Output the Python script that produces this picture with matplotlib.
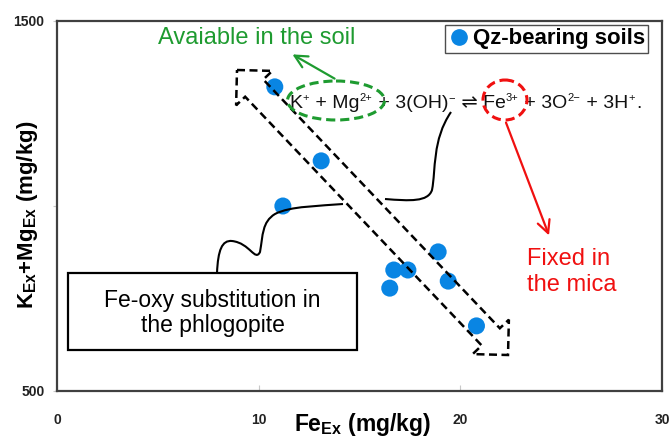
import numpy as np
import matplotlib
matplotlib.use('Agg')
import matplotlib.pyplot as plt
from matplotlib.patches import Polygon, Ellipse, Rectangle, PathPatch
from matplotlib.path import Path
from matplotlib.transforms import Affine2D
from matplotlib.lines import Line2D

# ---- data ----
fe_ex = [10.8, 13.1, 11.2, 18.9, 16.7, 17.4, 16.5, 19.4, 20.8]
k_mg_ex = [1322, 1122, 1000, 876, 827, 827, 778, 797, 676]
x_ticks = [0, 10, 20, 30]
y_ticks = [500, 1000, 1500]
y_tick_labels = ['500', '', '1500']
series_label = 'Qz-bearing soils'

plt.rcParams['font.family'] = ['Liberation Sans', 'DejaVu Sans']
plt.rcParams['mathtext.fontset'] = 'custom'
plt.rcParams['mathtext.rm'] = 'Liberation Sans'
plt.rcParams['mathtext.it'] = 'Liberation Sans:italic'
plt.rcParams['mathtext.bf'] = 'Liberation Sans:bold'

W, H = 671, 437
fig = plt.figure(figsize=(W / 100, H / 100), dpi=100)
ax = fig.add_axes([57 / W, 1 - 391 / H, (662 - 57) / W, (391 - 21) / H])
ax.set_xlim(0, 30)
ax.set_ylim(500, 1500)

# pixel (image) coordinates transform for decorations, y downward
PT = Affine2D().scale(1 / W, -1 / H).translate(0, 1) + fig.transFigure

BLUE = '#0985E3'
GREEN = '#1E9B30'
RED = '#F01010'

sc = ax.scatter(fe_ex, k_mg_ex, s=150, color=BLUE, zorder=3, label=series_label,
                edgecolors='none')

# axes styling
for sp in ax.spines.values():
    sp.set_color('#404040')
    sp.set_linewidth(1.6)
ax.set_xticks(x_ticks)
ax.set_yticks(y_ticks)
ax.set_yticklabels(y_tick_labels)
ax.tick_params(axis='x', direction='in', length=4, color='#c8c8c8', pad=16,
               labelsize=10, labelcolor='#222222')
ax.tick_params(axis='y', direction='out', length=3, color='#c8c8c8', pad=6,
               labelsize=10, labelcolor='#222222')
for lab in ax.get_xticklabels() + ax.get_yticklabels():
    lab.set_fontweight('bold')

ax.set_xlabel(r'Fe$_{\mathbf{Ex}}$ (mg/kg)', fontsize=16.5, fontweight='bold', va='center')
ax.xaxis.set_label_coords((362 - 57) / 605, (391 - 424) / 370)
ax.set_ylabel(r'K$_{\mathbf{Ex}}$+Mg$_{\mathbf{Ex}}$ (mg/kg)', fontsize=16,
              fontweight='bold', va='center')
ax.yaxis.set_label_coords((28 - 57) / 605, (391 - 215) / 370)

# legend
leg = ax.legend(handles=[Line2D([], [], marker='o', ls='none', color=BLUE, markersize=11)],
                labels=[series_label], loc='upper right',
                bbox_to_anchor=(648 / W, 1 - 25 / H), bbox_transform=fig.transFigure,
                frameon=True, fancybox=False, borderpad=0.15, handletextpad=0.1,
                handlelength=1.0, borderaxespad=0,
                prop={'weight': 'bold', 'size': 16})
leg.get_frame().set_edgecolor('#222222')
leg.get_frame().set_linewidth(1.0)

# dashed double block arrow (pixel coords)
A = np.array([237.0, 70.0])
B = np.array([508.0, 355.0])
u = (B - A) / np.linalg.norm(B - A)
n = np.array([u[1], -u[0]])
hl, hw, sw = 25.0, 25.0, 12.5
pts = [A,
       A + hl * u + hw * n, A + hl * u + sw * n,
       B - hl * u + sw * n, B - hl * u + hw * n,
       B,
       B - hl * u - hw * n, B - hl * u - sw * n,
       A + hl * u - sw * n, A + hl * u - hw * n]
arrow = Polygon(pts, closed=True, fill=False, edgecolor='black', lw=1.8,
                linestyle=(0, (3.2, 1.8)), transform=PT, zorder=4, clip_on=False)
ax.add_patch(arrow)

# equation, built from pieces with small superscripts
eq_pieces = [('K', False), ('+', True), (' + Mg', False), ('2+', True),
             (' + 3(OH)', False), ('\u2212', True), (' \u21cc Fe', False), ('3+', True),
             (' + 3O', False), ('2\u2212', True), (' + 3H', False), ('+', True), ('.', False)]
renderer = fig.canvas.get_renderer()
x_cur = 289.0
base_y = 108.0
for txt, sup in eq_pieces:
    t = ax.text(x_cur, base_y - (7 if sup else 0), txt, transform=PT,
                fontsize=8 if sup else 14, va='baseline', ha='left', color='#111111',
                zorder=5, family=['Liberation Sans', 'DejaVu Sans'])
    bb = t.get_window_extent(renderer=renderer)
    x_cur += bb.width + (1 if sup else 0)

# ellipses
ax.add_patch(Ellipse((336, 100.5), 97, 39, fill=False, edgecolor=GREEN, lw=2.2,
                     linestyle=(0, (3, 1.6)), transform=PT, zorder=5))
ax.add_patch(Ellipse((505, 100), 44, 40, fill=False, edgecolor=RED, lw=2.2,
                     linestyle=(0, (3, 1.6)), transform=PT, zorder=5))

# green annotation
ax.text(257, 38, 'Avaiable in the soil', transform=PT, fontsize=17, color=GREEN,
        ha='center', va='center')
ax.annotate('', xy=(290, 53), xycoords=PT, xytext=(337, 80), textcoords=PT,
            arrowprops=dict(arrowstyle='->,head_length=0.9,head_width=0.45',
                            color=GREEN, lw=1.6))

# red annotation
ax.text(527, 272, 'Fixed in\nthe mica', transform=PT, fontsize=17, color=RED,
        ha='left', va='center', linespacing=1.2)
ax.annotate('', xy=(550, 238), xycoords=PT, xytext=(505, 120), textcoords=PT,
            arrowprops=dict(arrowstyle='->,head_length=0.9,head_width=0.45',
                            color=RED, lw=1.6))

# box annotation
ax.add_patch(Rectangle((68, 273), 289, 77, fill=True, facecolor='white',
                       edgecolor='black', lw=1.6, transform=PT, zorder=5, clip_on=False))
ax.text(212.5, 313, 'Fe-oxy substitution in\nthe phlogopite', transform=PT,
        fontsize=16.5, ha='center', va='center', linespacing=1.15, zorder=6)

# hand-drawn connector curves
vA = [(217, 273), (218, 250), (222, 240), (232, 241),
      (250, 243), (255, 262), (260, 252),
      (263, 235), (262, 222), (275, 214),
      (290, 206), (320, 206), (343, 204)]
cA = [Path.MOVETO] + [Path.CURVE4] * 12
ax.add_patch(PathPatch(Path(vA, cA), fill=False, lw=1.5, edgecolor='black',
                       transform=PT, zorder=4))
vB = [(385, 199), (410, 201), (428, 202), (432, 190),
      (436, 170), (432, 140), (451, 112)]
cB = [Path.MOVETO] + [Path.CURVE4] * 6
ax.add_patch(PathPatch(Path(vB, cB), fill=False, lw=1.5, edgecolor='black',
                       transform=PT, zorder=4))

fig.savefig('out.png', dpi=100)
